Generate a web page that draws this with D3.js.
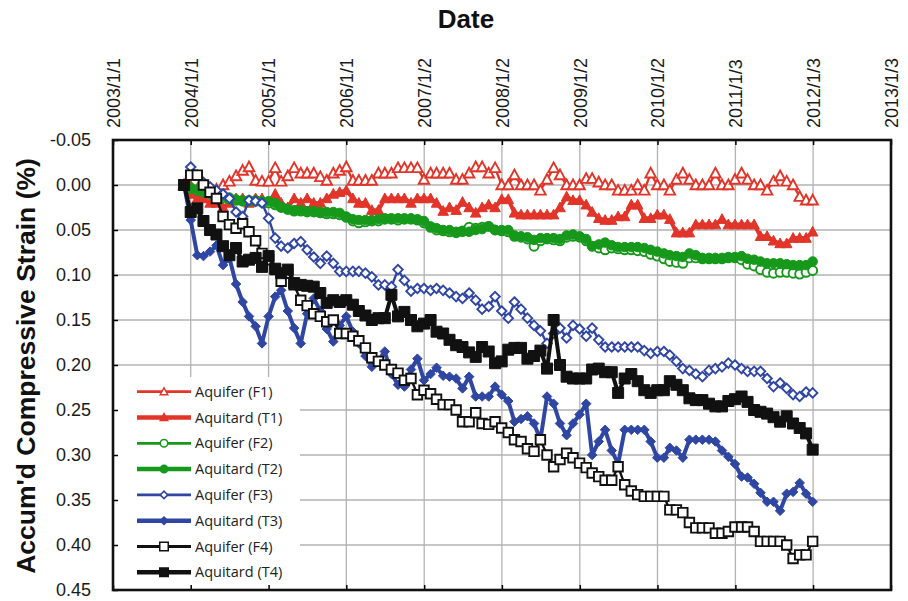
<!DOCTYPE html>
<html>
<head>
<meta charset="utf-8">
<script src="https://cdn.jsdelivr.net/npm/d3@7"></script>
<style>
  body { margin: 0; background: #fff; }
  svg { display: block; }
</style>
</head>
<body>
<svg id="chart" width="908" height="601"></svg>
<script>
// x-axis tick labels (Excel style, 365 day steps)
const dateTicks = ["2003/1/1", "2004/1/1", "2005/1/1", "2006/1/1", "2007/1/2", "2008/1/2",
                   "2009/1/2", "2010/1/2", "2011/1/3", "2012/1/3", "2013/1/3"];
const strainTicks = [-0.05, 0, 0.05, 0.10, 0.15, 0.20, 0.25, 0.30, 0.35, 0.40, 0.45];

// monthly surveys, Dec 2003 .. Jan 2012
const firstSurvey = "2003-12";
const lastSurvey = "2012-01";

// accumulated compressive strain (%)
const aquiferF1 = [0, 0.002, 0.005, 0.008, 0.008, 0.005, 0, -0.004, -0.01, -0.016,
  -0.02, -0.005, -0.004, -0.004, -0.019, -0.004, -0.01, -0.019, -0.013, -0.013,
  -0.013, -0.009, -0.005, -0.013, -0.016, -0.02, -0.005, -0.005, -0.005, -0.005,
  -0.013, -0.013, -0.013, -0.019, -0.019, -0.019, -0.019, -0.006, -0.013, -0.013,
  -0.013, -0.013, -0.006, -0.006, -0.013, -0.02, -0.02, -0.013, -0.019, 0,
  0, -0.011, 0, 0, 0, 0.006, -0.006, -0.019, -0.011, 0,
  0, 0, -0.007, -0.007, -0.003, 0, 0, 0.006, 0.006, 0.006,
  0, 0.006, -0.013, 0, 0, 0.006, -0.006, -0.013, -0.006, 0,
  0, 0, -0.013, 0, 0, -0.006, -0.013, -0.006, 0, 0,
  0.006, -0.004, -0.01, -0.004, 0, 0.013, 0.017, 0.017];
const aquitardT1 = [0, 0.01, 0.015, 0.015, 0.02, 0.02, 0.025, 0.02, 0.015, 0.015,
  0.02, 0.015, 0.015, 0.02, 0.01, 0.02, 0.025, 0.015, 0.02, 0.015,
  0.02, 0.02, 0.015, 0.01, 0.008, 0.006, 0.015, 0.02, 0.02, 0.028,
  0.028, 0.015, 0.015, 0.015, 0.015, 0.02, 0.015, 0.015, 0.015, 0.02,
  0.029, 0.025, 0.028, 0.019, 0.025, 0.031, 0.025, 0.022, 0.025, 0.016,
  0.016, 0.031, 0.033, 0.033, 0.033, 0.033, 0.033, 0.033, 0.025, 0.013,
  0.017, 0.017, 0.022, 0.03, 0.037, 0.039, 0.039, 0.035, 0.035, 0.022,
  0.022, 0.037, 0.037, 0.033, 0.033, 0.038, 0.053, 0.053, 0.053, 0.044,
  0.044, 0.044, 0.044, 0.038, 0.044, 0.044, 0.044, 0.044, 0.044, 0.057,
  0.057, 0.062, 0.065, 0.065, 0.059, 0.059, 0.059, 0.052];
const aquiferF2 = [0, 0.004, 0.006, 0.008, 0.01, 0.012, 0.014, 0.016, 0.017, 0.018,
  0.018, 0.018, 0.019, 0.02, 0.022, 0.025, 0.027, 0.029, 0.029, 0.03,
  0.03, 0.031, 0.032, 0.032, 0.033, 0.036, 0.04, 0.042, 0.041, 0.04,
  0.04, 0.038, 0.038, 0.039, 0.038, 0.038, 0.039, 0.042, 0.047, 0.05,
  0.051, 0.052, 0.053, 0.051, 0.047, 0.048, 0.047, 0.046, 0.05, 0.051,
  0.052, 0.057, 0.058, 0.06, 0.068, 0.062, 0.06, 0.061, 0.062, 0.058,
  0.057, 0.058, 0.062, 0.068, 0.07, 0.072, 0.07, 0.071, 0.072, 0.072,
  0.073, 0.074, 0.077, 0.079, 0.082, 0.085, 0.086, 0.087, 0.081, 0.081,
  0.082, 0.082, 0.082, 0.082, 0.081, 0.081, 0.083, 0.088, 0.09, 0.094,
  0.097, 0.098, 0.097, 0.097, 0.098, 0.099, 0.097, 0.095];
const aquitardT2 = [0, 0.003, 0.005, 0.007, 0.008, 0.01, 0.012, 0.014, 0.016, 0.017,
  0.017, 0.017, 0.018, 0.018, 0.02, 0.024, 0.027, 0.028, 0.028, 0.029,
  0.029, 0.03, 0.03, 0.03, 0.031, 0.035, 0.038, 0.039, 0.039, 0.039,
  0.038, 0.037, 0.037, 0.037, 0.037, 0.037, 0.038, 0.04, 0.046, 0.048,
  0.05, 0.05, 0.052, 0.052, 0.052, 0.05, 0.049, 0.046, 0.05, 0.05,
  0.05, 0.056, 0.057, 0.058, 0.061, 0.059, 0.059, 0.059, 0.06, 0.056,
  0.055, 0.057, 0.06, 0.068, 0.066, 0.064, 0.067, 0.069, 0.069, 0.069,
  0.069, 0.07, 0.072, 0.074, 0.076, 0.078, 0.079, 0.08, 0.076, 0.078,
  0.081, 0.081, 0.081, 0.081, 0.08, 0.08, 0.079, 0.082, 0.083, 0.085,
  0.087, 0.087, 0.087, 0.088, 0.089, 0.089, 0.089, 0.085];
const aquiferF3 = [0, -0.02, -0.011, -0.003, 0.002, 0.006, 0.01, 0.015, 0.03, 0.035,
  0.017, 0.018, 0.02, 0.037, 0.059, 0.068, 0.07, 0.065, 0.063, 0.072,
  0.08, 0.087, 0.079, 0.087, 0.096, 0.096, 0.096, 0.096, 0.098, 0.102,
  0.111, 0.111, 0.113, 0.094, 0.106, 0.118, 0.115, 0.115, 0.117, 0.115,
  0.117, 0.12, 0.124, 0.126, 0.12, 0.128, 0.138, 0.135, 0.124, 0.14,
  0.148, 0.13, 0.138, 0.148, 0.156, 0.162, 0.176, 0.165, 0.159, 0.17,
  0.156, 0.16, 0.168, 0.159, 0.172, 0.18, 0.18, 0.18, 0.18, 0.18,
  0.18, 0.184, 0.187, 0.185, 0.185, 0.189, 0.196, 0.204, 0.206, 0.21,
  0.213, 0.206, 0.204, 0.202, 0.198, 0.2, 0.204, 0.207, 0.207, 0.207,
  0.215, 0.224, 0.22, 0.226, 0.233, 0.235, 0.23, 0.231];
const aquitardT3 = [0, 0.039, 0.078, 0.079, 0.074, 0.067, 0.089, 0.081, 0.11, 0.13,
  0.146, 0.157, 0.176, 0.146, 0.124, 0.117, 0.14, 0.159, 0.176, 0.143,
  0.126, 0.14, 0.16, 0.174, 0.156, 0.146, 0.163, 0.176, 0.19, 0.202,
  0.195, 0.185, 0.21, 0.222, 0.224, 0.205, 0.193, 0.217, 0.21, 0.203,
  0.212, 0.213, 0.215, 0.226, 0.213, 0.235, 0.235, 0.235, 0.224, 0.233,
  0.24, 0.263, 0.26, 0.257, 0.265, 0.283, 0.235, 0.243, 0.265, 0.278,
  0.265, 0.255, 0.243, 0.3, 0.285, 0.272, 0.295, 0.31, 0.272, 0.272,
  0.272, 0.272, 0.285, 0.303, 0.303, 0.292, 0.295, 0.303, 0.283, 0.283,
  0.283, 0.283, 0.285, 0.295, 0.302, 0.31, 0.324, 0.325, 0.332, 0.342,
  0.352, 0.352, 0.362, 0.343, 0.341, 0.331, 0.343, 0.352];
const aquiferF4 = [0, -0.011, -0.011, 0, 0.008, 0.015, 0.035, 0.044, 0.048, 0.043,
  0.052, 0.062, 0.076, 0.083, 0.094, 0.107, 0.098, 0.111, 0.128, 0.134,
  0.143, 0.146, 0.152, 0.15, 0.165, 0.165, 0.168, 0.173, 0.181, 0.192,
  0.196, 0.2, 0.205, 0.209, 0.217, 0.215, 0.233, 0.228, 0.232, 0.238,
  0.244, 0.244, 0.25, 0.263, 0.263, 0.253, 0.265, 0.266, 0.263, 0.27,
  0.275, 0.283, 0.285, 0.293, 0.296, 0.283, 0.3, 0.313, 0.305, 0.298,
  0.303, 0.309, 0.314, 0.32, 0.324, 0.328, 0.328, 0.313, 0.333, 0.34,
  0.344, 0.346, 0.346, 0.346, 0.346, 0.361, 0.361, 0.364, 0.375, 0.381,
  0.381, 0.381, 0.387, 0.387, 0.385, 0.38, 0.38, 0.38, 0.385, 0.396,
  0.396, 0.396, 0.396, 0.4, 0.415, 0.411, 0.411, 0.396];
const aquitardT4 = [0, 0.03, 0.026, 0.04, 0.05, 0.055, 0.068, 0.078, 0.07, 0.085,
  0.083, 0.081, 0.091, 0.079, 0.093, 0.098, 0.094, 0.109, 0.111, 0.112,
  0.113, 0.12, 0.131, 0.128, 0.13, 0.128, 0.133, 0.14, 0.145, 0.15,
  0.148, 0.148, 0.122, 0.146, 0.141, 0.15, 0.157, 0.154, 0.15, 0.163,
  0.165, 0.172, 0.178, 0.18, 0.186, 0.191, 0.18, 0.185, 0.198, 0.196,
  0.183, 0.181, 0.181, 0.193, 0.19, 0.184, 0.204, 0.15, 0.2, 0.213,
  0.215, 0.215, 0.215, 0.205, 0.204, 0.208, 0.208, 0.231, 0.215, 0.21,
  0.218, 0.228, 0.231, 0.228, 0.228, 0.218, 0.222, 0.228, 0.237, 0.239,
  0.239, 0.243, 0.246, 0.246, 0.24, 0.238, 0.235, 0.241, 0.25, 0.252,
  0.254, 0.258, 0.263, 0.257, 0.265, 0.27, 0.276, 0.294];

const RED = "#e2352a", GREEN = "#16991a", BLUE = "#2f46a2", BLACK = "#111";

const series = [
  { name: "Aquifer (F1)",  values: aquiferF1,  color: RED,   width: 2.4, marker: "tri",     filled: false, size: 10.5 },
  { name: "Aquitard (T1)", values: aquitardT1, color: RED,   width: 4,   marker: "tri",     filled: true,  size: 10.5 },
  { name: "Aquifer (F2)",  values: aquiferF2,  color: GREEN, width: 2.4, marker: "circle",  filled: false, size: 9 },
  { name: "Aquitard (T2)", values: aquitardT2, color: GREEN, width: 4,   marker: "circle",  filled: true,  size: 9.5 },
  { name: "Aquifer (F3)",  values: aquiferF3,  color: BLUE,  width: 2.4, marker: "diamond", filled: false, size: 9.5 },
  { name: "Aquitard (T3)", values: aquitardT3, color: BLUE,  width: 4,   marker: "diamond", filled: true,  size: 9.5 },
  { name: "Aquifer (F4)",  values: aquiferF4,  color: BLACK, width: 2.4, marker: "square",  filled: false, size: 9.5 },
  { name: "Aquitard (T4)", values: aquitardT4, color: BLACK, width: 4,   marker: "square",  filled: true,  size: 11 }
];

const W = 908, H = 601;
const margin = { top: 140, right: 17, bottom: 11, left: 113 };
const plotW = W - margin.left - margin.right;
const plotH = H - margin.top - margin.bottom;
const FONT = "'Liberation Sans', Arial, Helvetica, sans-serif";

const parseTick = d3.timeParse("%Y/%m/%d");
const parseMonth = d3.timeParse("%Y-%m");
const tickDates = dateTicks.map(parseTick);
const surveyDates = d3.timeMonth.range(parseMonth(firstSurvey), d3.timeMonth.offset(parseMonth(lastSurvey), 1));

const x = d3.scaleTime()
    .domain([tickDates[0], tickDates[tickDates.length - 1]])
    .range([0, plotW]);
const y = d3.scaleLinear()
    .domain([-0.05, 0.45])
    .range([0, plotH]);

function markerPath(type, s) {
    const h = s / 2;
    if (type === "tri") return `M0,${-h * 1.05}L${h},${h * 0.8}L${-h},${h * 0.8}Z`;
    if (type === "square") return `M${-h},${-h}H${h}V${h}H${-h}Z`;
    if (type === "diamond") return `M0,${-h}L${h},0L0,${h}L${-h},0Z`;
    return `M${h},0A${h},${h} 0 1,1 ${-h},0A${h},${h} 0 1,1 ${h},0Z`;
}

const svg = d3.select("#chart");
svg.append("rect").attr("width", W).attr("height", H).attr("fill", "#fff");

const g = svg.append("g").attr("transform", `translate(${margin.left},${margin.top})`);

// grid
g.append("g").selectAll("line").data(tickDates).enter().append("line")
    .attr("x1", d => x(d)).attr("x2", d => x(d))
    .attr("y1", 0).attr("y2", plotH)
    .attr("stroke", "#b3b3b3").attr("stroke-width", 1.3);
g.append("g").selectAll("line").data(strainTicks).enter().append("line")
    .attr("x1", 0).attr("x2", plotW)
    .attr("y1", d => y(d)).attr("y2", d => y(d))
    .attr("stroke", "#b3b3b3").attr("stroke-width", 1.3);

// legend background hides the grid
const legendX = 0, legendY = 237;
g.append("rect")
    .attr("x", legendX).attr("y", legendY)
    .attr("width", 187).attr("height", plotH - legendY)
    .attr("fill", "#fff");

// series
const line = d3.line()
    .x(d => x(d.date))
    .y(d => y(d.value));

series.forEach(s => {
    const pts = surveyDates.map((date, i) => ({ date, value: s.values[i] }))
        .filter(p => p.value !== undefined);
    const sg = g.append("g");
    sg.append("path")
        .datum(pts)
        .attr("d", line)
        .attr("fill", "none")
        .attr("stroke", s.color)
        .attr("stroke-width", s.width)
        .attr("stroke-linejoin", "round");
    sg.selectAll("path.mk").data(pts).enter().append("path")
        .attr("class", "mk")
        .attr("transform", d => `translate(${x(d.date)},${y(d.value)})`)
        .attr("d", markerPath(s.marker, s.size))
        .attr("fill", s.filled ? s.color : "#fff")
        .attr("stroke", s.color)
        .attr("stroke-width", s.filled ? 1 : 1.9);
});

// legend
const legend = g.append("g").attr("transform", `translate(${legendX},${legendY})`);
series.forEach((s, i) => {
    const ly = 14.7 + i * 25.8;
    legend.append("line")
        .attr("x1", 24).attr("x2", 78)
        .attr("y1", ly).attr("y2", ly)
        .attr("stroke", s.color)
        .attr("stroke-width", s.filled ? 4.5 : 2.8);
    legend.append("path")
        .attr("transform", `translate(51,${ly})`)
        .attr("d", markerPath(s.marker, s.marker === "square" ? 8.5 : 7.5))
        .attr("fill", s.filled ? s.color : "#fff")
        .attr("stroke", s.color)
        .attr("stroke-width", 1.5);
    legend.append("text")
        .attr("x", 82).attr("y", ly)
        .attr("dy", "0.35em")
        .attr("font-family", "'Open Sans', sans-serif")
        .attr("font-size", 14.5)
        .attr("fill", "#222")
        .text(s.name);
});

// axes (ticks point inward)
const topAxis = g.append("g")
    .call(d3.axisTop(x).tickValues(tickDates).tickSize(-5).tickFormat((d, i) => dateTicks[i]));
topAxis.selectAll("text")
    .attr("transform", "rotate(-90)")
    .attr("x", 12).attr("y", 0).attr("dy", "0.35em")
    .attr("text-anchor", "start");

const bottomAxis = g.append("g")
    .attr("transform", `translate(0,${plotH})`)
    .call(d3.axisBottom(x).tickValues(tickDates).tickSize(-5).tickFormat(""));

const leftAxis = g.append("g")
    .call(d3.axisLeft(y).tickValues(strainTicks).tickSize(-5).tickPadding(22).tickFormat(d => d.toFixed(2)));

[topAxis, bottomAxis, leftAxis].forEach(a => {
    a.select(".domain").remove();
    a.selectAll("line").attr("stroke", "#000").attr("stroke-width", 1.5);
    a.selectAll("text").attr("font-family", FONT).attr("font-size", 18).attr("fill", "#1a1a1a");
});

// plot border
g.append("rect")
    .attr("width", plotW).attr("height", plotH)
    .attr("fill", "none")
    .attr("stroke", "#111")
    .attr("stroke-width", 2.6);

// titles
svg.append("text")
    .attr("x", 466).attr("y", 28)
    .attr("text-anchor", "middle")
    .attr("font-family", FONT).attr("font-weight", "bold").attr("font-size", 26)
    .attr("fill", "#111")
    .text("Date");

svg.append("text")
    .attr("transform", "translate(35,366) rotate(-90)")
    .attr("text-anchor", "middle")
    .attr("font-family", FONT).attr("font-weight", "bold").attr("font-size", 26.5)
    .attr("fill", "#111")
    .text("Accum'd Compressive Strain (%)");
</script>
</body>
</html>
